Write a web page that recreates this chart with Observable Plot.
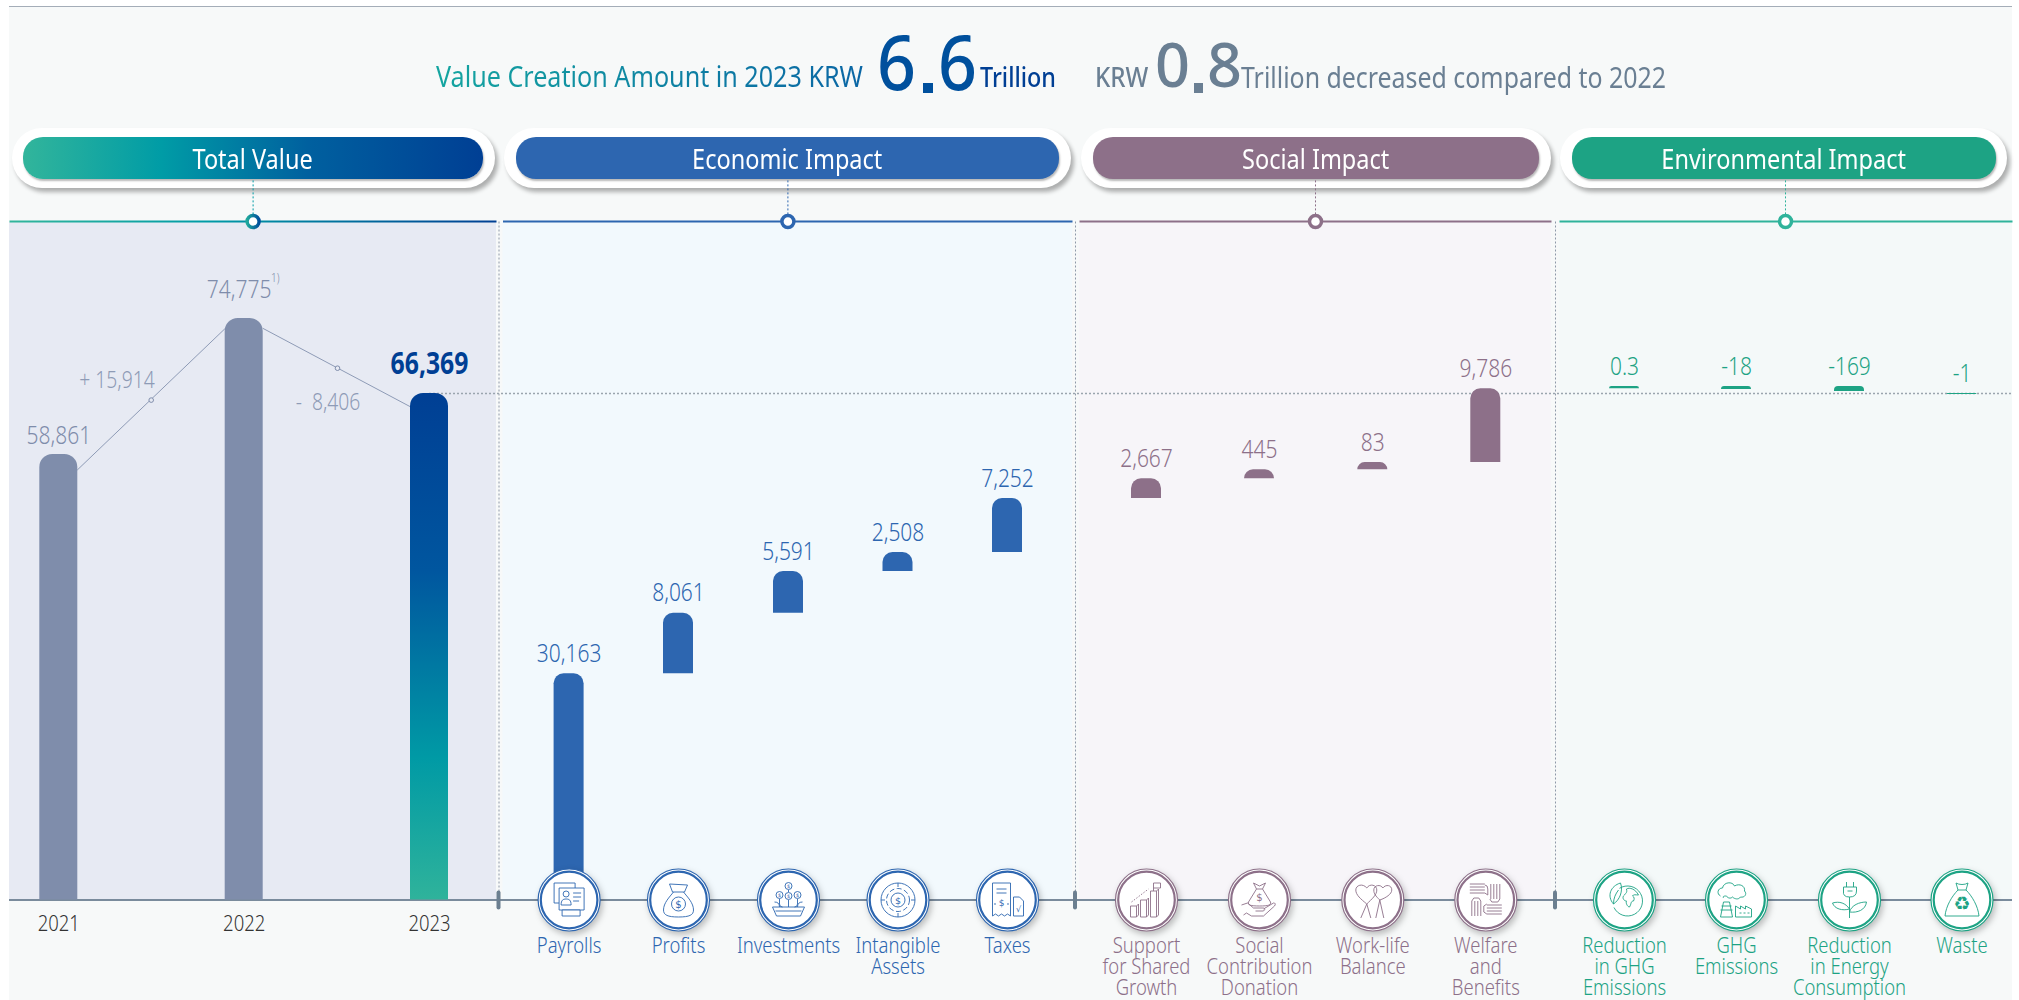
<!DOCTYPE html>
<html><head><meta charset="utf-8">
<script src="https://cdn.jsdelivr.net/npm/d3@7"></script>
<script src="https://cdn.jsdelivr.net/npm/@observablehq/plot@0.6"></script>
<style>
html,body{margin:0;padding:0;background:#fff;width:2019px;height:1000px;overflow:hidden}
body{font-family:"Noto Sans",sans-serif;position:relative}
#bg{position:absolute;left:9px;right:7px;top:6px;bottom:0;background:#f7f9f9;border-top:1.5px solid #a4adb8}
#head{position:relative;height:179px;z-index:1}
#head span{position:absolute;white-space:nowrap;line-height:1;transform-origin:0 0;font-weight:300}
#head i{position:absolute;display:block}
.rim{position:absolute;top:128px;height:60px;background:#fff;border-radius:30px;box-shadow:3px 4px 4px rgba(0,0,0,.3)}
.pill{position:absolute;top:137px;height:42px;border-radius:20px;box-shadow:1px 2px 2px rgba(0,0,0,.28);color:#fff;text-align:center;font-size:28px;line-height:42px;font-weight:400}
.pill b{display:inline-block;font-weight:400;transform:scaleX(.84)}
#chart{position:relative;z-index:2;height:821px}
#chart svg{display:block;overflow:visible}
</style></head>
<body>
<div id="bg"></div>
<div id="head"></div>
<div id="chart"></div>
<script>
// ---------- values ----------
const years = ["2021", "2022", "2023"];
const totalValues = [58861, 74775, 66369];
const deltaLabels = ["+ 15,914", "-  8,406"];
const economicCats = ["Payrolls", "Profits", "Investments", "Intangible\nAssets", "Taxes"];
const economicValues = [30163, 8061, 5591, 2508, 7252];
const socialCats = ["Support\nfor Shared\nGrowth", "Social\nContribution\nDonation", "Work-life\nBalance", "Welfare\nand\nBenefits"];
const socialValues = [2667, 445, 83, 9786];
const envCats = ["Reduction\nin GHG\nEmissions", "GHG\nEmissions", "Reduction\nin Energy\nConsumption", "Waste"];
const envLabels = ["0.3", "-18", "-169", "-1"];
const envValues = [0.3, -18, -169, -1];
const envTop = [66556.3, 66556.3, 66556.3, 66369];
const connectorLevels = [[56687, 65667, 73687], [73566, 68768, 64779]];
const deltaLevels = [67300, 65384];

// ---------- scale configuration (the picture's axis is not uniform) ----------
const yDomain = [0, 30163, 38224, 43815, 46323, 53575, 56242, 56687, 56770, 58861, 66368, 66369, 66387.3, 66538.3, 66556, 66556.3, 74775, 86378, 91670];
const yPixels = [899.5, 673.3, 612.7, 571, 552, 498, 478.3, 469.3, 462, 454, 394, 393, 391, 389, 388.3, 386, 318, 222, 179];
const panelTopLevel = 86378, headerLevel = 86500, dashTopLevel = 91500, dashBottomLevel = 85900;

const xNames = [
  "start","2021","c1a","d1","c1m","c1b","2022","c2a","d2","c2m","c2b","2023",
  "totalEnd","div1","econStart",
  ...economicCats,"econEnd","div2","socStart",...socialCats,"socEnd","div3","envStart",...envCats,"end",
  "hTotal","hEcon","hSoc","hEnv"
];
const xPositions = [
  9,58.3,77,116.5,150.7,225.7,243.7,262.7,327.5,337,410.7,429,
  496,498.5,502.5,
  568.6,678,788,897.5,1007,1072,1075,1079,1146,1259,1372.3,1485.3,1551,1555,1559,1624,1736,1849,1961.5,2012,
  252.6,787.4,1315,1785
];

const colors = {econ:"#2d66b0", soc:"#8d7089", env:"#1da384", grey:"#7f8dab"};

// ---------- rows for marks ----------
const fmt = d3.format(",");
const totalRows = years.map((c,i)=>({cat:c, base:0, top:totalValues[i], label:fmt(totalValues[i]), fill:i==2?"url(#g2023)":colors.grey}));
const econCum = Array.from(d3.cumsum(economicValues));
const econEnd = econCum[econCum.length-1];
const econRows = economicCats.map((c,i)=>({cat:c, base:i?econCum[i-1]:0, top:econCum[i], label:fmt(economicValues[i]), fill:colors.econ}));
const socCum = Array.from(d3.cumsum(socialValues)).map(v=>v+econEnd);
const socRows = socialCats.map((c,i)=>({cat:c, base:i?socCum[i-1]:econEnd, top:socCum[i], label:fmt(socialValues[i]), fill:colors.soc}));
const envRows = envCats.map((c,i)=>({cat:c, top:envTop[i], base:envTop[i]-Math.abs(envValues[i]), label:envLabels[i], fill:colors.env}));

const panels = [
  {a:"start",b:"totalEnd",fill:"#e7eaf3"},
  {a:"econStart",b:"econEnd",fill:"#f2f9fd"},
  {a:"socStart",b:"socEnd",fill:"#f7f5f9"},
  {a:"envStart",b:"end",fill:"#f4f9f9"}
];
const heads = [
  {a:"start",b:"totalEnd",c:"hTotal",stroke:"url(#gLine)",col:"#009ca6",ring:"url(#gRing)"},
  {a:"econStart",b:"econEnd",c:"hEcon",stroke:colors.econ,col:colors.econ,ring:colors.econ},
  {a:"socStart",b:"socEnd",c:"hSoc",stroke:colors.soc,col:colors.soc,ring:colors.soc},
  {a:"envStart",b:"end",c:"hEnv",stroke:"#2fb39b",col:"#2fb39b",ring:"#2fb39b"}
];

// ---------- icon line art ----------
const d = (x,y)=>`<text x="${x}" y="${y}" font-family="DejaVu Sans" font-size="5" text-anchor="middle" stroke="none" fill="COL">$</text>`;
const iconArt = {
 "Payrolls":`<path d="M26 8V3H5v20h5"/><rect x="10" y="8" width="25" height="22" fill="#fff"/><circle cx="17" cy="14" r="3"/><path d="M12 25c0-5 2-6 5-6s5 1 5 6z"/><path d="M24 13h8M24 17h8M24 21h6"/><rect x="13" y="30" width="18" height="6" fill="#fff"/>`,
 "Profits":`<path d="M11 4l18 1-3 7H14z"/><path d="M15 12C11 17 5 23 5 30c0 5 4 7 15 7s15-2 15-7c0-7-6-13-10-18"/><circle cx="20" cy="24" r="7"/><text x="20" y="27.5" font-family="DejaVu Sans" font-size="10" text-anchor="middle" stroke="none" fill="COL">$</text>`,
 "Investments":`<circle cx="20" cy="6" r="3.5"/><circle cx="11" cy="15" r="3.5"/><circle cx="20" cy="16" r="3.5"/><circle cx="29" cy="15" r="3.5"/>${d(20,8)}${d(11,17)}${d(20,18)}${d(29,17)}<path d="M20 10v2M20 20v7M11 19v5q0 3 3 3M29 19v5q0 3-3 3M6 22q5 0 5 5M34 22q-5 0-5 5"/><path d="M4 27h32l-4 9H8z"/><path d="M7 31h26"/>`,
 "Intangible\nAssets":`<circle cx="20" cy="20" r="17"/><circle cx="20" cy="20" r="11.5" stroke-dasharray="5 2.5"/><circle cx="20" cy="20" r="7"/><text x="20" y="23.5" font-family="DejaVu Sans" font-size="9.5" text-anchor="middle" stroke="none" fill="COL">$</text><path d="M20 3v4M20 33v4M3 20h4M33 20h4"/>`,
 "Taxes":`<path d="M5 3h18v33l-3-2-3 2-3-2-3 2-3-2-3 2z"/><path d="M9 9h10M9 13h10"/><text x="14" y="26" font-family="DejaVu Sans" font-size="9" text-anchor="middle" stroke="none" fill="COL">$</text><circle cx="7.5" cy="24" r=".4"/><circle cx="20.5" cy="24" r=".4"/><path d="M26 17h6l4 4v15H26z"/><text x="31" y="32" font-family="DejaVu Sans" font-size="8" text-anchor="middle" stroke="none" fill="COL">√</text>`,
 "Support\nfor Shared\nGrowth":`<path d="M4 26h6v11H4zM10 26l2-2v11l-2 2M14 20h6v17h-6zM20 20l2-2v17l-2 2M24 11h6v26h-6zM30 11l2-2v26l-2 2"/><path d="M5 22L22 9" stroke-dasharray="1.5 1.5"/><path d="M27 11V3h7v5h-7"/>`,
 "Social\nContribution\nDonation":`<path d="M14 3l6 3 6-3-3 6h-6zM17 9L9 22c-1 3 2 4 11 4s12-1 11-4L23 9"/><text x="20" y="21" font-family="DejaVu Sans" font-size="10" text-anchor="middle" stroke="none" fill="COL">$</text><path d="M2 25l6-2 6 5h10q3 1 0 3h-8M24 29l10-6q3 0 1 3L24 36H12l-5-3-3 2"/>`,
 "Work-life\nBalance":`<path d="M14 24C8 19 3 15 3 10c0-5 7-7 11-2 3-5 10-3 10 2 0 5-5 9-10 14z"/><path d="M27 20c-4-4-6-6-6-10 0-5 7-6 9-2 3-4 9-3 9 2 0 4-6 8-12 10z"/><path d="M14 24l-6 14M14 24l4 14M27 20l-4 18M27 20l4 18"/>`,
 "Welfare\nand\nBenefits":`<path d="M4 4h15M4 7h15M4 10h15M4 13h15l3 2v-6q0-4-3-4"/><path d="M25 4v15M28 4v15M31 4v15M34 4v15l-2 3h-6l-2-3"/><path d="M36 25H21M36 28H21M36 31H21M36 34H21l-3-2v-6l3-2"/><path d="M6 36V21M9 36V21M12 36V21M15 36V21l-2-3H8l-2 3"/>`,
 "Reduction\nin GHG\nEmissions":`<path d="M15 8.3A15 15 0 1 1 9.5 27.5"/><path d="M9 24C2 16 6 6 16 3c3 8-1 17-7 21z"/><path d="M9 24c0-6 2-10 5-14"/><path d="M22 9c3-2 9 0 12 6-3 0-5-1-6 1 2 1 2 3 1 5-3 0-2 3-4 6-2 0-4-4-3-6-3 0-5-4-2-6 1-2 3-2 2-6z"/>`,
 "GHG\nEmissions":`<path d="M4 16c-4-2-3-8 2-8 1-6 10-7 12-2 5-3 11 0 10 5 3 3 0 7-4 6-2 3-6 2-8 0-2 2-5 1-6-1-2 0-4 0-3 2"/><path d="M4 37l3-15h6l3 15zM4 30h12M5 26h10"/><path d="M19 37V26l5 3v-3l5 3v-3l6 3v8z"/><path d="M23 33h2M27 33h2M31 33h2"/>`,
 "Reduction\nin Energy\nConsumption":`<path d="M17 2v5M24 2v5M14 7h13v4q0 6-7 6t-6-6z"/><path d="M20 17v21"/><path d="M20 29C16 23 10 21 3 23c2 6 10 8 17 6z"/><path d="M20 32c2-7 10-10 17-10-1 8-9 11-17 10z"/><path d="M18 11h5"/>`,
 "Waste":`<path d="M14 3c3 2 9 2 12 0l-2 7H16z"/><path d="M16 10C10 16 4 26 3 36h34c-1-10-7-20-13-26"/><text x="20" y="30" font-family="DejaVu Sans" font-size="19" text-anchor="middle" stroke="none" fill="COL">♻</text>`
};
const iconSrc = (cat,col)=>"data:image/svg+xml,"+encodeURIComponent(
  `<svg xmlns="http://www.w3.org/2000/svg" viewBox="0 0 40 40" width="80" height="80" fill="none" stroke="${col}" stroke-width="0.9" stroke-linejoin="round">${iconArt[cat].replace(/COL/g,col)}</svg>`);
const allCatRows=[
 ...economicCats.map(c=>({cat:c,col:colors.econ})),
 ...socialCats.map(c=>({cat:c,col:colors.soc})),
 ...envCats.map(c=>({cat:c,col:colors.env}))];
const iconRows = allCatRows.map(r=>({...r,src:iconSrc(r.cat,r.col)}));

// ---------- header (HTML) ----------
const head = document.getElementById("head");
function put(text,left,width,baseline,fs,css){
  const s=document.createElement("span");s.textContent=text;
  s.style.cssText=`left:${left}px;font-size:${fs}px;top:${baseline-.888*fs}px;${css||""}`;
  head.appendChild(s);
  s.style.transform=`scaleX(${width/s.getBoundingClientRect().width})`;
}
function dot(left,top,w,h,col){
  const i=document.createElement("i");
  i.style.cssText=`left:${left}px;top:${top}px;width:${w}px;height:${h}px;background:${col}`;
  head.appendChild(i);
}
put("Value Creation Amount in 2023 KRW",436,427,87,29,"font-weight:400;background:linear-gradient(90deg,#14a5a0,#0a66a5);-webkit-background-clip:text;background-clip:text;color:transparent");
put("6",877,39,90,75.6,"font-weight:500;color:#00509d");
dot(922.7,83.3,10,9.4,"#00509d");
put("6",938,39,90,75.6,"font-weight:500;color:#00509d");
put("Trillion",980,76,87.7,27.5,"font-weight:500;color:#003f94");
put("KRW",1095,53.3,87.7,27.5,"font-weight:500;color:#6a7f93");
put("0",1155,35,88,61.6,"font-weight:500;color:#6a7f93");
dot(1194,83,9,9.7,"#6a7f93");
put("8",1206.5,35,88,61.6,"font-weight:500;color:#6a7f93");
put("Trillion decreased compared to 2022",1241,425,87.7,29,"font-weight:400;color:#6a7f93");
const pillSpec=[
 ["Total Value",11.6,495,22.5,483,"linear-gradient(90deg,#32b59b,#009ca6 30%,#00609f 62%,#003f94)"],
 ["Economic Impact",504,1071,515.5,1059,"#2d66b0"],
 ["Social Impact",1081,1551,1093,1539,"#8d7089"],
 ["Environmental Impact",1560,2007,1572,1995.5,"#1da384"]];
for(const [t,r0,r1,p0,p1,bg] of pillSpec){
  const r=document.createElement("div");r.className="rim";r.style.left=r0+"px";r.style.width=(r1-r0)+"px";head.appendChild(r);
  const p=document.createElement("div");p.className="pill";p.style.cssText=`left:${p0}px;width:${p1-p0}px;background:${bg}`;
  p.innerHTML=`<b>${t}</b>`;head.appendChild(p);
}

// ---------- chart ----------
const ff='"Noto Sans",sans-serif';
function bars(rows,w,r){return Plot.rect(rows,{x1:"cat",x2:"cat",y1:"base",y2:"top",fill:"fill",insetLeft:-w/2,insetRight:-w/2,ry2:r});}
function labels(rows,col,fs,dy,extra){return Plot.text(rows,{x:"cat",y:"top",text:"label",fill:col,fontSize:fs,fontFamily:ff,fontWeight:300,lineAnchor:"bottom",dy,...extra});}
const connectors=[
 [{x:"c1a",y:connectorLevels[0][0]},{x:"c1b",y:connectorLevels[0][2]}],
 [{x:"c2a",y:connectorLevels[1][0]},{x:"c2b",y:connectorLevels[1][2]}]];
const defsMark=()=>{
  const ns="http://www.w3.org/2000/svg";
  const g=document.createElementNS(ns,"g");
  g.innerHTML=`<defs>
   <linearGradient id="g2023" x1="0" y1="0" x2="0" y2="1"><stop offset="0" stop-color="#003f94"/><stop offset=".35" stop-color="#00569f"/><stop offset=".72" stop-color="#009aa5"/><stop offset="1" stop-color="#2fb39b"/></linearGradient>
   <linearGradient id="gLine" gradientUnits="userSpaceOnUse" x1="9" x2="496" y1="0" y2="0"><stop offset="0" stop-color="#32b59b"/><stop offset=".4" stop-color="#009ca6"/><stop offset="1" stop-color="#003f94"/></linearGradient>
   <linearGradient id="gRing" x1="0" x2="1" y1="0" y2="0"><stop offset="0" stop-color="#1fa89c"/><stop offset="1" stop-color="#004f9c"/></linearGradient>
  </defs>`;
  return g;
};
const svg = Plot.plot({
  width:2019, height:821, margin:0, marginTop:0,marginRight:0,marginBottom:0,marginLeft:0,
  style:{background:"none",overflow:"visible"},
  x:{type:"ordinal",domain:xNames,range:xPositions,axis:null},
  y:{type:"linear",domain:yDomain,range:yPixels.map(p=>p-179),axis:null},
  color:{type:"identity"},
  marks:[
    defsMark,
    Plot.rect(panels,{x1:"a",x2:"b",y1:0,y2:panelTopLevel,fill:"fill"}),
    Plot.ruleY([0],{x1:()=>"start",x2:()=>"end",stroke:"#7a8b9c",strokeWidth:2}),
    Plot.ruleX(["div1","div2","div3"],{x:d=>d,y1:0,y2:panelTopLevel+300,stroke:"#8e99a8",strokeWidth:1,strokeDasharray:"2,2"}),
    Plot.ruleY([66369],{x1:()=>"2023",x2:()=>"end",stroke:"#9aa5ae",strokeWidth:1.3,strokeDasharray:"2,2"}),
    // header lines, dashes, rings
    Plot.link(heads,{x1:"a",x2:"b",y1:headerLevel,y2:headerLevel,stroke:"stroke",strokeWidth:2}),
    Plot.ruleX(heads,{x:"c",y1:dashTopLevel,y2:dashBottomLevel,stroke:"col",strokeWidth:1,strokeDasharray:"2,2"}),
    Plot.dot(heads,{x:"c",y:headerLevel,r:6,fill:"#fff",stroke:"ring",strokeWidth:3.5}),
    // connectors
    ...connectors.map(c=>Plot.line(c,{x:"x",y:"y",stroke:"#8e9bb6",strokeWidth:1})),
    Plot.dot([{x:"c1m",y:connectorLevels[0][1]},{x:"c2m",y:connectorLevels[1][1]}],{x:"x",y:"y",r:2.3,fill:"#e7eaf3",stroke:"#7f8dab",strokeWidth:1}),
    Plot.text([{x:"d1",y:deltaLevels[0],t:deltaLabels[0]},{x:"d2",y:deltaLevels[1],t:deltaLabels[1]}],{x:"x",y:"y",text:"t",fill:"#8e9bb6",fontSize:23,fontFamily:ff,fontWeight:300}),
    // bars
    bars(totalRows,38,13),
    bars(econRows,30,10),
    bars(socRows,30,10),
    bars(envRows,30,4),
    // value labels
    labels([totalRows[0]],"#7f8dab",25,-11),
    labels([totalRows[1]],"#7f8dab",25,-21,{dx:-5}),
    Plot.text([totalRows[1]],{x:"cat",y:"top",text:()=>"1)",fill:"#7f8dab",fontSize:12,fontFamily:ff,fontWeight:300,dx:31,dy:-40}),
    labels([totalRows[2]],"#003f94",29.5,-20,{fontWeight:700}),
    labels(econRows,colors.econ,25,-12),
    labels(socRows,colors.soc,25,-12),
    labels(envRows,colors.env,25,-12),
    // axis: year labels
    Plot.text(years,{x:d=>d,y:0,text:d=>d,fill:"#333",fontSize:22,fontFamily:ff,fontWeight:300,dy:24}),
    // group ticks
    Plot.rect(["div1","div2","div3"],{x1:d=>d,x2:d=>d,y1:()=>0,y2:()=>0,fill:()=>"#6b7f90",insetLeft:-2,insetRight:-2,insetTop:-9,insetBottom:-10,rx:2}),
    // icon circles
    Plot.dot(iconRows,{x:"cat",y:0,r:31,fill:"#fff",stroke:"col",strokeWidth:1.2,imageFilter:"drop-shadow(2px 3px 3px rgba(0,0,0,.25))"}),
    Plot.dot(iconRows,{x:"cat",y:0,r:28.3,fill:"#fff",stroke:"col",strokeWidth:2.2}),
    Plot.image(iconRows,{x:"cat",y:0,src:"src",width:40,height:40}),
    // category labels
    Plot.text(allCatRows,{x:"cat",y:0,text:"cat",fill:"col",fontSize:22,fontFamily:ff,fontWeight:300,lineAnchor:"top",lineHeight:0.955,dy:38})
  ]
});
document.getElementById("chart").appendChild(svg);
// narrow the glyphs to match the reference's condensed face
svg.querySelectorAll("text").forEach(t=>{
  const tr=t.getAttribute("transform")||"";
  t.setAttribute("transform",tr+" scale(.84,1)");
});
</script>
</body></html>
